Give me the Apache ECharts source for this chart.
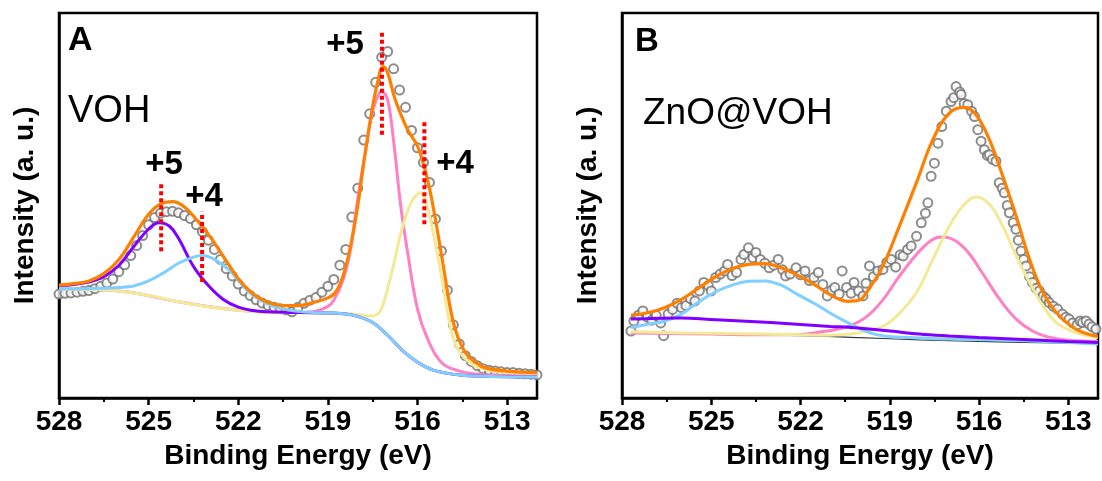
<!DOCTYPE html>
<html lang="en">
<head>
  <meta charset="UTF-8">
  <title>V 2p XPS</title>
  <style>
    body { margin: 0; padding: 0; background: #fff; }
    #chart { width: 1102px; height: 481px; }
  </style>
</head>
<body>
  <div id="chart"></div>
  <script src="https://cdn.jsdelivr.net/npm/echarts@6/dist/echarts.min.js"></script>
  <script>
    // ---- tick labels ----
    var MAJOR_TICKS = [528, 525, 522, 519, 516, 513];
    var MINOR_TICKS = [526.5, 523.5, 520.5, 517.5, 514.5];

    // ---- panel A (VOH): measured points ----
    var A_EV = [528.0, 527.8, 527.6, 527.4, 527.2, 527.0, 526.8, 526.6, 526.4, 526.2,
      526.0, 525.8, 525.6, 525.4, 525.2, 525.0, 524.8, 524.6, 524.4, 524.2,
      524.0, 523.8, 523.6, 523.4, 523.2, 523.0, 522.8, 522.6, 522.4, 522.2,
      522.0, 521.8, 521.6, 521.4, 521.2, 521.0, 520.8, 520.6, 520.4, 520.2,
      520.0, 519.8, 519.6, 519.4, 519.2, 519.0, 518.8, 518.6, 518.4, 518.2,
      518.0, 517.8, 517.6, 517.4, 517.2, 517.0, 516.8, 516.6, 516.4, 516.2,
      516.0, 515.8, 515.6, 515.4, 515.2, 515.0, 514.8, 514.6, 514.4, 514.2,
      514.0, 513.8, 513.6, 513.4, 513.2, 513.0, 512.8, 512.6, 512.4, 512.2, 512.0];
    var A_COUNTS = [27.0, 27.2, 27.3, 27.5, 27.7, 27.9, 28.4, 29.0, 29.9, 30.9,
      32.8, 34.6, 37.0, 39.6, 42.2, 45.0, 46.9, 48.0, 48.4, 48.5,
      48.1, 47.4, 46.6, 45.0, 43.2, 41.0, 38.6, 36.0, 33.6, 31.7,
      29.6, 27.8, 26.6, 25.5, 24.7, 24.0, 23.6, 23.2, 22.9, 22.4,
      23.6, 24.6, 25.4, 26.1, 27.5, 29.0, 30.8, 34.5, 38.6, 47.0,
      54.5, 67.0, 73.8, 82.0, 88.5, 90.0, 85.5, 80.0, 75.5, 69.5,
      65.0, 61.2, 56.0, 46.5, 38.2, 28.0, 19.0, 14.0, 11.0, 9.5,
      8.4, 7.6, 7.2, 7.0, 6.8, 6.6, 6.6, 6.4, 6.3, 6.2, 6.0];

    // ---- panel A fitted curves [eV, intensity] ----
    var A_BACKGROUND = [[528, 28.3], [527, 28.2], [526, 27.8], [525.5, 27.3], [525, 26.6], [524.5, 25.8],
      [524, 25.0], [523.5, 24.3], [523, 23.7], [522.5, 23.2], [522, 22.8], [521.5, 22.5], [521, 22.3],
      [520, 22.2], [519, 22.1], [518.5, 21.9], [518, 21.2], [517.5, 19.6], [517, 16.3], [516.5, 12.3],
      [516, 9.3], [515.5, 7.3], [515, 6.4], [514.5, 5.9], [514, 5.7], [513, 5.5], [512, 5.4]];
    var A_V4_HIGH = [[528, 28.4], [527.5, 28.4], [527, 28.4], [526.5, 28.5], [526, 28.7], [525.5, 29.1],
      [525, 30.4], [524.5, 32.5], [524, 35.0], [523.5, 36.6], [523.2, 37.0], [522.8, 36.0], [522.3, 33.2],
      [521.9, 29.6], [521.5, 26.6], [521, 24.4], [520.5, 23.1], [520, 22.5], [519.5, 22.2], [519, 22.1],
      [518.5, 21.9], [518, 21.2], [517.5, 19.6], [517, 16.3], [516.5, 12.3], [516, 9.3], [515.5, 7.3],
      [515, 6.4], [514.5, 5.9], [514, 5.7], [513, 5.5], [512, 5.4]];
    var A_V5_HIGH = [[528, 29.2], [527.5, 29.5], [527, 30.1], [526.5, 31.5], [526, 34.4], [525.5, 39.3],
      [525, 43.9], [524.65, 45.5], [524.3, 44.6], [524, 41.5], [523.5, 34.2], [523, 29.2], [522.5, 25.6],
      [522, 23.6], [521.5, 22.7], [521, 22.4], [520, 22.2], [519, 22.1], [518.5, 21.9], [518, 21.2],
      [517.5, 19.6], [517, 16.3], [516.5, 12.3], [516, 9.3], [515.5, 7.3], [515, 6.4], [514.5, 5.9],
      [514, 5.7], [513, 5.5], [512, 5.4]];
    var A_V4_LOW = [[528, 28.3], [527, 28.2], [526, 27.8], [525, 26.6], [524, 25.0], [523, 23.7],
      [522, 22.8], [521, 22.3], [520, 22.2], [519, 22.1], [518.5, 22.0], [518, 21.7], [517.6, 21.3],
      [517.4, 21.5], [517.2, 23.3], [517.0, 28.5], [516.8, 34.5], [516.6, 41.5], [516.4, 47.0],
      [516.2, 51.0], [516.0, 53.0], [515.9, 53.3], [515.75, 51.5], [515.6, 47.5], [515.45, 42.0],
      [515.3, 36.0], [515.15, 29.5], [515.0, 22.5], [514.85, 16.8], [514.7, 13.5], [514.5, 11.0],
      [514.2, 8.9], [514, 8.0], [513.5, 7.0], [513, 6.6], [512, 6.4]];
    var A_V5_LOW = [[528, 28.3], [526, 27.8], [524, 25.0], [522, 22.8], [520, 22.2], [519.5, 22.4],
      [519, 23.8], [518.8, 25.4], [518.5, 30.5], [518.24, 38.6], [518.07, 48.0], [517.9, 56.7],
      [517.7, 66.0], [517.56, 72.3], [517.4, 77.0], [517.2, 79.6], [517.0, 77.5], [516.78, 65.4],
      [516.56, 49.8], [516.33, 37.8], [516.0, 23.1], [515.66, 15.3], [515.21, 9.3], [514.65, 7.1],
      [514, 6.2], [513, 5.9], [512, 5.8]];
    var A_ENVELOPE = [[528, 29.3], [527.5, 29.7], [527, 30.4], [526.5, 32.3], [526, 35.9], [525.5, 41.8],
      [525, 47.7], [524.6, 50.4], [524.2, 51.0], [523.8, 49.6], [523.4, 46.3], [523, 42.5], [522.5, 36.8],
      [522, 31.0], [521.5, 27.0], [521, 24.8], [520.5, 24.0], [520, 24.0], [519.5, 24.8], [519, 26.0],
      [518.75, 27.4], [518.5, 31.5], [518.24, 39.5], [518.0, 50.0], [517.8, 61.0], [517.56, 73.1],
      [517.35, 81.5], [517.15, 86.1], [517.0, 84.5], [516.78, 78.3], [516.55, 73.5], [516.33, 69.7],
      [516.0, 65.4], [515.78, 60.2], [515.6, 54.5], [515.44, 48.1], [515.27, 40.5], [515.1, 32.6],
      [514.93, 24.5], [514.77, 18.7], [514.55, 14.0], [514.32, 11.0], [514.0, 9.0], [513.76, 7.9],
      [513, 7.0], [512, 6.6]];
    // oxidation-state markers: [eV, from, to]
    var A_MARKERS = [[524.58, 38.1, 56.2], [523.21, 30.1, 48.4], [517.19, 68.4, 95.1], [515.77, 45.1, 72.3]];

    // ---- panel B (ZnO@VOH): measured points [eV, intensity] ----
    var B_POINTS = [[527.7, 17.4], [527.6, 20.0], [527.45, 21.5], [527.3, 22.6], [527.15, 21.0], [527.0, 20.2],
      [526.85, 21.4], [526.7, 19.5], [526.6, 16.2], [526.45, 21.8], [526.3, 23.0], [526.15, 24.6],
      [526.0, 23.5], [525.85, 24.0], [525.7, 25.8], [525.55, 25.2], [525.4, 27.8], [525.25, 30.0],
      [525.1, 29.2], [525.0, 27.8], [524.85, 31.3], [524.7, 32.2], [524.55, 33.0], [524.45, 34.7],
      [524.3, 31.8], [524.15, 32.6], [524.0, 36.0], [523.9, 37.3], [523.75, 39.0], [523.6, 36.4],
      [523.5, 37.8], [523.35, 36.0], [523.2, 35.0], [523.05, 33.8], [522.9, 34.5], [522.75, 36.0],
      [522.6, 33.3], [522.5, 31.7], [522.35, 32.2], [522.15, 33.8], [522.0, 32.0], [521.85, 33.0],
      [521.7, 30.5], [521.55, 31.3], [521.4, 32.6], [521.25, 29.5], [521.1, 26.5], [520.95, 28.0],
      [520.85, 28.7], [520.7, 27.0], [520.6, 33.0], [520.45, 28.7], [520.3, 27.2], [520.2, 30.0],
      [520.05, 27.8], [519.9, 26.5], [519.8, 29.8], [519.68, 34.3], [519.55, 31.5], [519.4, 33.0],
      [519.23, 33.4], [519.1, 35.2], [518.95, 36.0], [518.8, 34.0], [518.65, 37.2], [518.55, 36.9],
      [518.4, 38.6], [518.28, 39.5], [518.1, 42.0], [517.94, 45.5], [517.8, 48.0], [517.72, 50.7],
      [517.61, 57.6], [517.5, 61.0], [517.38, 66.2], [517.25, 70.5], [517.1, 74.5], [516.94, 77.0],
      [516.85, 78.0], [516.77, 80.9], [516.65, 79.5], [516.6, 78.8], [516.5, 76.5], [516.38, 76.2],
      [516.25, 74.5], [516.15, 73.1], [516.04, 69.7], [515.93, 66.7], [515.82, 64.5], [515.72, 63.0],
      [515.65, 63.2], [515.55, 62.0], [515.43, 61.5], [515.32, 55.9], [515.22, 54.5], [515.15, 53.3],
      [515.05, 50.0], [514.98, 48.1], [514.85, 45.5], [514.76, 43.8], [514.68, 41.0], [514.59, 38.2],
      [514.5, 36.0], [514.42, 34.3], [514.3, 31.5], [514.2, 30.0], [514.08, 28.5], [513.97, 27.8],
      [513.85, 26.5], [513.75, 25.8], [513.64, 24.8], [513.5, 23.8], [513.36, 23.1], [513.2, 21.8],
      [513.08, 21.0], [512.97, 20.5], [512.85, 19.5], [512.7, 19.0], [512.6, 20.0], [512.52, 19.6],
      [512.4, 20.0], [512.3, 19.2], [512.2, 18.5], [512.07, 17.9]];

    // ---- panel B fitted curves [eV, intensity] ----
    var B_BACKGROUND = [[527.7, 16.9], [525, 16.6], [522, 16.2], [520, 15.7], [518, 15.1], [516, 14.7],
      [514, 14.4], [512, 14.2]];
    var B_V5_HIGH = [[527.7, 20.5], [526, 20.8], [525, 20.4], [524, 20.0], [523, 19.6], [522, 19.1],
      [521, 18.6], [520.3, 18.3], [519, 17.4], [518, 16.6], [517, 16.1], [516, 15.7], [514.5, 15.2],
      [513, 14.7], [512, 14.4]];
    var B_V4_HIGH = [[527.7, 18.3], [527.1, 19.2], [526.55, 20.0], [526.0, 21.8], [525.45, 24.8],
      [524.9, 27.4], [524.3, 29.3], [523.75, 30.3], [523.2, 30.4], [522.65, 29.3], [522.1, 26.9],
      [521.5, 24.4], [520.95, 21.8], [520.4, 19.5], [519.8, 17.3], [519.2, 16.1], [518, 15.6],
      [517, 15.3], [515, 15.0], [513, 14.4], [512, 14.0]];
    var B_V5_LOW = [[527.7, 16.9], [525, 16.6], [523, 16.4], [522, 16.5], [521.3, 17.2], [520.8, 17.8],
      [520.35, 18.7], [519.8, 21.0], [519.25, 25.3], [518.7, 31.4], [518.1, 37.3], [517.6, 41.0],
      [517.25, 41.8], [517.0, 41.6], [516.45, 38.6], [515.9, 32.6], [515.3, 25.6], [514.75, 20.5],
      [514.2, 17.4], [513.65, 15.8], [513, 15.0], [512, 14.7]];
    var B_V4_LOW = [[527.7, 17.2], [526, 16.9], [524, 16.7], [522, 16.4], [521, 16.3], [520.3, 16.6],
      [519.8, 17.4], [519.2, 18.7], [518.7, 21.8], [518.1, 27.4], [517.55, 36.0], [517.0, 44.6],
      [516.55, 49.8], [516.1, 52.2], [515.65, 50.3], [515.2, 44.6], [514.75, 36.9], [514.3, 30.0],
      [513.85, 23.9], [513.4, 19.6], [512.75, 17.0], [512, 15.7]];
    var B_ENVELOPE = [[527.7, 21.5], [527.1, 22.2], [526.55, 23.5], [526, 25.6], [525.45, 28.4],
      [524.9, 31.3], [524.3, 33.6], [523.75, 34.7], [523.2, 34.9], [522.65, 33.8], [522.1, 31.9],
      [521.5, 29.3], [520.95, 26.6], [520.4, 25.1], [520.0, 25.5], [519.8, 27.2], [519.25, 34.0],
      [518.7, 44.2], [518.1, 56.0], [517.55, 67.1], [517.0, 74.0], [516.5, 75.5], [516.1, 73.6],
      [515.65, 67.1], [515.2, 57.6], [514.75, 47.2], [514.3, 36.0], [513.85, 27.4], [513.4, 22.2],
      [512.75, 17.9], [512, 16.0]];

    var FONT = '"Liberation Sans", Arial, sans-serif';
    var COLORS = {
      data: '#707070', bg: '#3a3a3a', v5high: '#8000ff', v4high: '#7fcfff',
      v5low: '#ff80c4', v4low: '#f2ea96', env: '#ff8000', marker: '#ff0000'
    };

    var chart = echarts.init(document.getElementById('chart'));

    function mainX(grid) {
      return {
        type: 'value', gridIndex: grid, min: 512, max: 528, inverse: true, position: 'bottom',
        axisLine: { show: true, onZero: false, lineStyle: { color: '#000', width: 2.5 } },
        axisTick: { show: true, length: 7, lineStyle: { color: '#000', width: 2.5 }, customValues: MAJOR_TICKS },
        axisLabel: {
          customValues: MAJOR_TICKS, margin: 10, color: '#000', fontSize: 28,
          fontWeight: 'bold', fontFamily: FONT
        },
        splitLine: { show: false },
        name: 'Binding Energy (eV)', nameLocation: 'middle', nameGap: 44,
        nameTextStyle: { color: '#000', fontSize: 28, fontWeight: 'bold', fontFamily: FONT }
      };
    }
    function minorX(grid) {
      return {
        type: 'value', gridIndex: grid, min: 512, max: 528, inverse: true, position: 'bottom',
        axisLine: { show: false },
        axisTick: { show: true, length: 4, lineStyle: { color: '#000', width: 2 }, customValues: MINOR_TICKS },
        axisLabel: { show: false },
        splitLine: { show: false }
      };
    }
    function yAx(grid) {
      return {
        type: 'value', gridIndex: grid, min: 0, max: 100,
        axisLine: { show: true, lineStyle: { color: '#000', width: 2.5 } },
        axisTick: { show: false }, axisLabel: { show: false }, splitLine: { show: false },
        name: 'Intensity (a. u.)', nameLocation: 'middle', nameGap: 20,
        nameTextStyle: { color: '#000', fontSize: 28, fontWeight: 'bold', fontFamily: FONT }
      };
    }

    function curve(grid, data, color, width) {
      return {
        type: 'line', xAxisIndex: grid * 2, yAxisIndex: grid, data: data,
        smooth: 0.4, symbol: 'none', silent: true,
        lineStyle: { color: color, width: width }
      };
    }
    function dots(grid, data) {
      return {
        type: 'scatter', xAxisIndex: grid * 2, yAxisIndex: grid, data: data,
        symbol: 'emptyCircle', symbolSize: 9, silent: true,
        itemStyle: { color: COLORS.data, borderWidth: 2.8 }
      };
    }
    function marker(grid, m) {
      return {
        type: 'line', xAxisIndex: grid * 2, yAxisIndex: grid,
        data: [[m[0], m[1]], [m[0], m[2]]], symbol: 'none', silent: true, z: 5,
        lineStyle: { color: COLORS.marker, width: 4, type: [4, 3] }
      };
    }

    var aPoints = A_EV.map(function (e, i) { return [e, A_COUNTS[i]]; });

    var series = [
      dots(0, aPoints),
      curve(0, A_BACKGROUND, COLORS.bg, 1.2),
      curve(0, A_V5_LOW, COLORS.v5low, 3),
      curve(0, A_V4_LOW, COLORS.v4low, 3),
      curve(0, A_V5_HIGH, COLORS.v5high, 3),
      curve(0, A_V4_HIGH, COLORS.v4high, 3),
      curve(0, A_ENVELOPE, COLORS.env, 3.2),

      dots(1, B_POINTS),
      curve(1, B_BACKGROUND, COLORS.bg, 1.2),
      curve(1, B_V5_LOW, COLORS.v5low, 3),
      curve(1, B_V4_LOW, COLORS.v4low, 3),
      curve(1, B_V4_HIGH, COLORS.v4high, 3),
      curve(1, B_V5_HIGH, COLORS.v5high, 3),
      curve(1, B_ENVELOPE, COLORS.env, 3.2)
    ];
    A_MARKERS.forEach(function (m) { series.push(marker(0, m)); });

    function label(text, x, y, size, bold, align) {
      return {
        type: 'text', x: x, y: y, z: 10, silent: true,
        style: {
          text: text, fill: '#000', font: (bold ? 'bold ' : '') + size + 'px ' + FONT,
          textAlign: align, align: align, textVerticalAlign: 'middle', verticalAlign: 'middle'
        }
      };
    }

    var option = {
      animation: false,
      backgroundColor: '#fff',
      grid: [
        { left: 59, right: 565, top: 13, bottom: 83, containLabel: false, outerBoundsMode: 'none',
          show: true, borderColor: '#000', borderWidth: 2.5, backgroundColor: 'transparent' },
        { left: 622, right: 4, top: 13, bottom: 83, containLabel: false, outerBoundsMode: 'none',
          show: true, borderColor: '#000', borderWidth: 2.5, backgroundColor: 'transparent' }
      ],
      xAxis: [mainX(0), minorX(0), mainX(1), minorX(1)],
      yAxis: [yAx(0), yAx(1)],
      graphic: [
        label('A', 68, 41, 34, true, 'left'),
        label('VOH', 68, 112, 38, false, 'left'),
        label('+5', 164, 165, 33, true, 'center'),
        label('+4', 204, 197, 33, true, 'center'),
        label('+5', 345, 45, 33, true, 'center'),
        label('+4', 455, 164, 33, true, 'center'),
        label('B', 635, 42, 33, true, 'left'),
        label('ZnO@VOH', 643, 114, 37, false, 'left')
      ],
      series: series
    };

    chart.setOption(option);
  </script>
</body>
</html>
